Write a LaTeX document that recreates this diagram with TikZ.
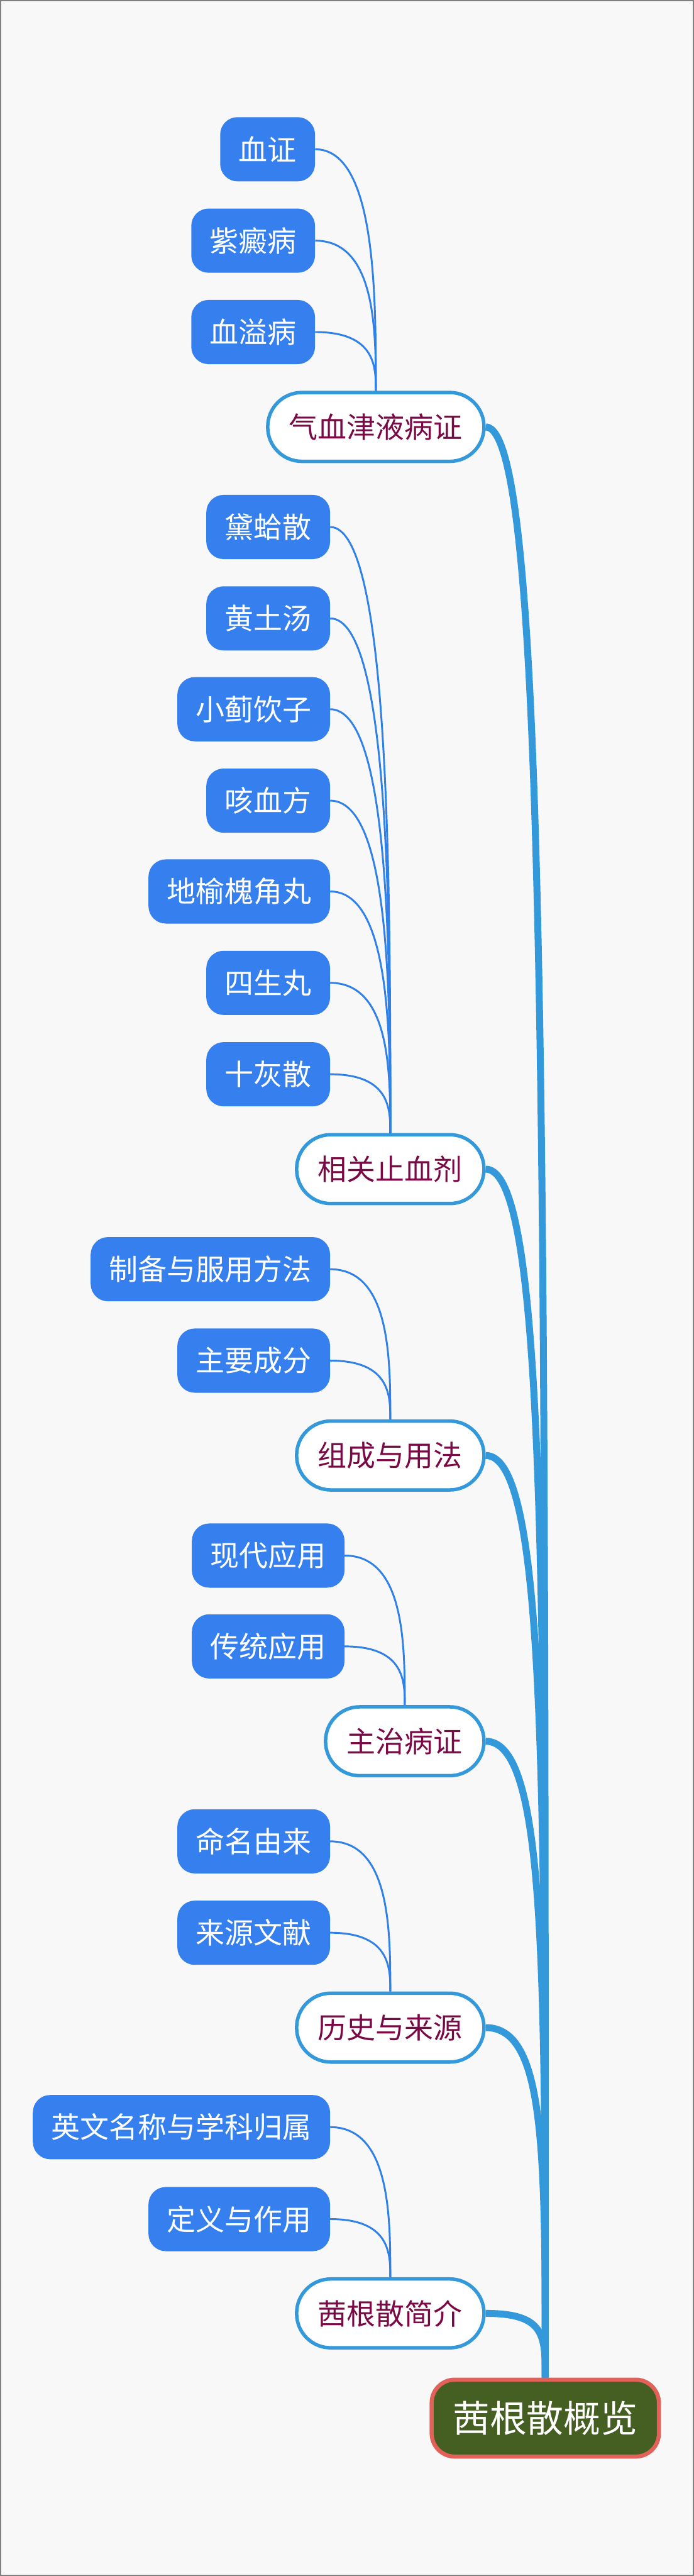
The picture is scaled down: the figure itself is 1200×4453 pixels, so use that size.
\documentclass[tikz,border=0pt]{standalone}
\usepackage{fontspec}
\setmainfont{Noto Sans CJK SC}
\usetikzlibrary{calc}
\pgfdeclarelayer{bg}
\pgfdeclarelayer{edges}
\pgfsetlayers{bg,edges,main}
\definecolor{childblue}{HTML}{3580EE}
\definecolor{linkblue}{HTML}{2F80E8}
\definecolor{trunkblue}{HTML}{3399DA}
\definecolor{topictext}{HTML}{7A0A45}
\definecolor{rootgreen}{HTML}{455E22}
\definecolor{rootred}{HTML}{E2625A}
\definecolor{bggray}{HTML}{F8F8F8}
\begin{document}
\begin{tikzpicture}[x=1pt,y=-1pt,
  leaf/.style={fill=childblue, text=white, font=\fontsize{50}{60}\selectfont,
    rounded corners=30pt, inner xsep=32pt, inner ysep=0pt, minimum height=111pt, anchor=east},
  topic/.style={fill=white, draw=trunkblue, line width=6pt, text=topictext,
    font=\fontsize{50}{60}\selectfont, rounded corners=59pt, inner xsep=37pt,
    inner ysep=0pt, minimum height=119pt, anchor=east},
  central/.style={fill=rootgreen, draw=rootred, line width=7pt, text=white,
    font=\fontsize{64}{76}\selectfont, rounded corners=40pt, inner xsep=36.5pt,
    inner ysep=0pt, minimum height=133pt},
  twig/.style={draw=linkblue, line width=3.2pt},
  limb/.style={draw=trunkblue, line width=12pt},
]
\useasboundingbox (0,0) rectangle (1200,4453);
\begin{pgfonlayer}{bg}
  \fill[bggray] (0,0) rectangle (1200,4453);
  \draw[black!50, line width=2pt] (1,1) rectangle (1199,4452);
\end{pgfonlayer}

% group 1
\node[leaf] (a1) at (545,258) {血证};
\node[leaf] (a2) at (545,416) {紫癜病};
\node[leaf] (a3) at (545,574) {血溢病};
\node[topic] (p1) at (840,738) {气血津液病证};
% group 2
\node[leaf] (b1) at (571,911) {黛蛤散};
\node[leaf] (b2) at (571,1069) {黄土汤};
\node[leaf] (b3) at (571,1226) {小蓟饮子};
\node[leaf] (b4) at (571,1384) {咳血方};
\node[leaf] (b5) at (571,1541) {地榆槐角丸};
\node[leaf] (b6) at (571,1699) {四生丸};
\node[leaf] (b7) at (571,1857) {十灰散};
\node[topic] (p2) at (840,2021) {相关止血剂};
% group 3
\node[leaf] (c1) at (571,2194) {制备与服用方法};
\node[leaf] (c2) at (571,2352) {主要成分};
\node[topic] (p3) at (840,2516) {组成与用法};
% group 4
\node[leaf] (d1) at (596,2689) {现代应用};
\node[leaf] (d2) at (596,2846) {传统应用};
\node[topic] (p4) at (840,3010) {主治病证};
% group 5
\node[leaf] (e1) at (571,3183) {命名由来};
\node[leaf] (e2) at (571,3341) {来源文献};
\node[topic] (p5) at (840,3505) {历史与来源};
% group 6
\node[leaf] (f1) at (571,3677) {英文名称与学科归属};
\node[leaf] (f2) at (571,3836) {定义与作用};
\node[topic] (p6) at (840,3999) {茜根散简介};
% root
\node[central] (root) at (943,4180) {茜根散概览};

\begin{pgfonlayer}{edges}
  \foreach \c/\p in {a1/p1,a2/p1,a3/p1,b1/p2,b2/p2,b3/p2,b4/p2,b5/p2,b6/p2,b7/p2,
                     c1/p3,c2/p3,d1/p4,d2/p4,e1/p5,e2/p5,f1/p6,f2/p6}{
    \draw[twig] (\c.east) .. controls (\c.east -| \p.north)
      and ($(\c.east -| \p.north)!0.6!(\p.north)$) .. (\p.north);
  }
  \foreach \p in {p1,p2,p3,p4,p5,p6}{
    \draw[limb] (\p.east) .. controls (\p.east -| root.north)
      and ($(\p.east -| root.north)!0.35!(root.north)$) .. (root.north);
  }
\end{pgfonlayer}
\end{tikzpicture}
\end{document}
